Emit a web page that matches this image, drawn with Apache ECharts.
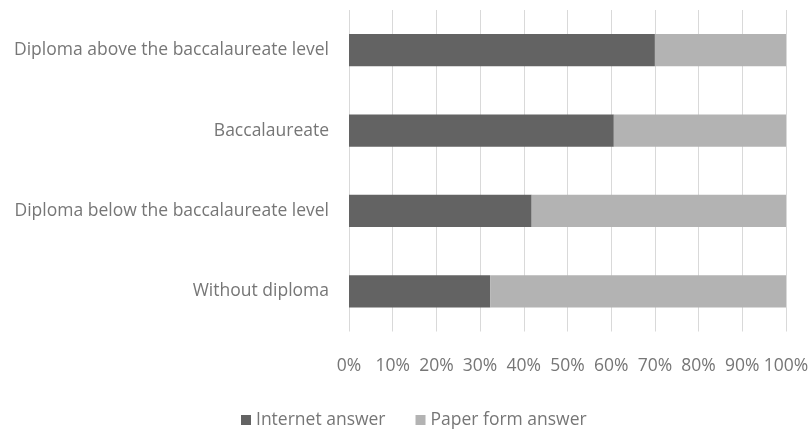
<!DOCTYPE html>
<html>
<head>
<meta charset="utf-8">
<script src="https://cdn.jsdelivr.net/npm/echarts@6/dist/echarts.min.js"></script>
<style>
  html, body { margin: 0; padding: 0; background: #fff; }
  #chart { width: 808px; height: 430px; }
</style>
</head>
<body>
<div id="chart"></div>
<script>
// Education level, listed top to bottom
const categories = [
  'Diploma above the baccalaureate level',
  'Baccalaureate',
  'Diploma below the baccalaureate level',
  'Without diploma'
];
// Share of answers by channel (%)
const internetAnswer = [70.0, 60.6, 41.8, 32.3];
const paperAnswer = [30.0, 39.4, 58.2, 67.7];
const seriesNames = ['Internet answer', 'Paper form answer'];

const textColor = '#767676';
const fontFamily = 'Open Sans, Noto Sans, sans-serif';
const fontSize = 17.5;

const chart = echarts.init(document.getElementById('chart'), null, { renderer: 'canvas' });
chart.setOption({
  animation: false,
  backgroundColor: '#ffffff',
  grid: {
    left: 349, right: 22, top: 10, bottom: 98.5,
    containLabel: false,
    outerBoundsMode: 'none'
  },
  xAxis: {
    type: 'value',
    min: 0,
    max: 100,
    interval: 10,
    axisLine: { show: false },
    axisTick: { show: false },
    splitLine: { show: true, lineStyle: { color: '#d9d9d9', width: 1 } },
    axisLabel: {
      formatter: '{value}%',
      color: textColor,
      fontSize: fontSize,
      fontFamily: fontFamily,
      margin: 26
    }
  },
  yAxis: {
    type: 'category',
    data: categories,
    inverse: true,
    axisLine: { show: false },
    axisTick: { show: false },
    axisLabel: {
      color: textColor,
      fontSize: fontSize,
      fontFamily: fontFamily,
      margin: 20
    }
  },
  legend: {
    data: seriesNames,
    top: 406,
    left: 236,
    icon: 'rect',
    itemWidth: 10,
    itemHeight: 10,
    itemGap: 30,
    textStyle: { color: textColor, fontSize: fontSize, fontFamily: fontFamily }
  },
  series: [
    {
      name: seriesNames[0],
      type: 'bar',
      stack: 'total',
      data: internetAnswer,
      barCategoryGap: '60%',
      itemStyle: { color: '#636363' }
    },
    {
      name: seriesNames[1],
      type: 'bar',
      stack: 'total',
      data: paperAnswer,
      barCategoryGap: '60%',
      itemStyle: { color: '#b3b3b3' }
    }
  ]
});
</script>
</body>
</html>
